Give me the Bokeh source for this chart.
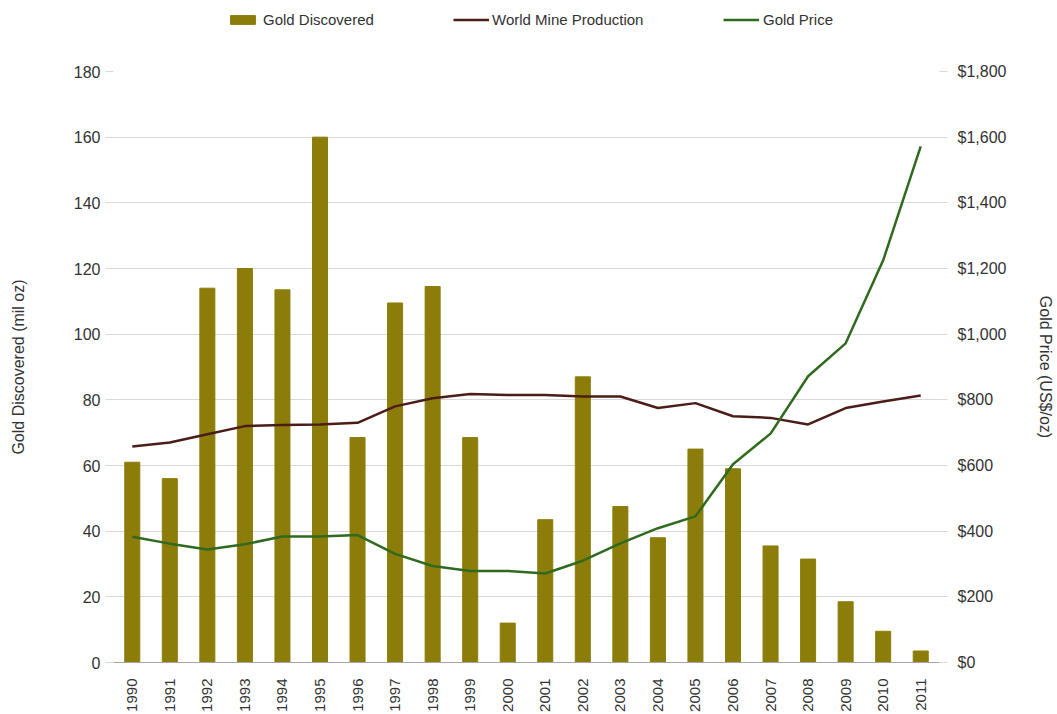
import math
from bokeh.plotting import figure
from bokeh.layouts import column
from bokeh.models import (LinearAxis, Range1d, FactorRange, Legend, LegendItem,
                          NumeralTickFormatter, FixedTicker)
from bokeh.embed import file_html
from bokeh.resources import INLINE

years = [str(y) for y in range(1990, 2012)]
gold_discovered = [61, 56, 114, 120, 113.5, 160, 68.5, 109.5, 114.5, 68.5, 12, 43.5,
                   87, 47.5, 38, 65, 59, 35.5, 31.5, 18.5, 9.5, 3.5]
mine_production = [65.8, 67, 69.5, 72, 72.3, 72.5, 73, 78, 80.5, 81.8, 81.5, 81.5,
                   81, 81, 77.5, 79, 75, 74.5, 72.5, 77.5, 79.5, 81.3]
gold_price = [383, 362, 344, 360, 384, 384, 388, 331, 294, 279, 279, 271,
              310, 363, 409, 445, 604, 697, 872, 972, 1225, 1572]
left_ticks = list(range(0, 181, 20))
right_ticks = list(range(0, 1801, 200))

FONT = "Liberation Sans"
TXT = "#333333"
GRID = "#D9D9D9"
BAR_C = "#8C7D0B"
PROD_C = "#4A1E16"
PRICE_C = "#2F6A1E"

# ---- main chart ----
p = figure(width=1057, height=674, x_range=FactorRange(*years, range_padding=0),
           y_range=Range1d(0, 180), output_backend="svg", toolbar_location=None,
           min_border_left=113, min_border_right=117, min_border_top=31,
           min_border_bottom=50)
p.extra_y_ranges = {"price": Range1d(0, 1800)}
p.outline_line_color = None
p.background_fill_color = "white"

p.vbar(x=years, top=gold_discovered, width=0.4, color=BAR_C)
p.line(x=years, y=mine_production, line_color=PROD_C, line_width=2.5)
p.line(x=years, y=gold_price, y_range_name="price", line_color=PRICE_C, line_width=2.5)

p.xgrid.grid_line_color = None
p.ygrid.grid_line_color = GRID
p.ygrid.ticker = FixedTicker(ticks=left_ticks)

ya = p.yaxis[0]
ya.ticker = FixedTicker(ticks=left_ticks)
ya.axis_label = "Gold Discovered (mil oz)"
ya.axis_line_color = None
ya.major_tick_line_color = GRID
ya.major_tick_out = 8
ya.major_tick_in = 0
ya.minor_tick_line_color = None
ya.major_label_standoff = 5
ya.axis_label_standoff = 44

ra = LinearAxis(y_range_name="price", ticker=FixedTicker(ticks=right_ticks),
                formatter=NumeralTickFormatter(format="$0,0"),
                axis_label="Gold Price (US$/oz)")
ra.axis_line_color = None
ra.major_tick_line_color = GRID
ra.major_tick_out = 8
ra.major_tick_in = 0
ra.minor_tick_line_color = None
ra.major_label_standoff = 10
ra.axis_label_standoff = 28
p.add_layout(ra, "right")

xa = p.xaxis[0]
xa.major_label_orientation = math.pi / 2
xa.axis_line_color = "#A6A6A6"
xa.major_tick_line_color = None
xa.major_label_standoff = 10

for ax in [ya, ra, xa]:
    ax.major_label_text_font = FONT
    ax.major_label_text_font_size = "16px"
    ax.major_label_text_color = TXT
    ax.axis_label_text_font = FONT
    ax.axis_label_text_font_size = "16px"
    ax.axis_label_text_font_style = "normal"
    ax.axis_label_text_color = TXT
xa.major_label_text_font_size = "15px"

# ---- legend strip (its renderers sit below its visible range; only the legend shows) ----
lf = figure(width=1057, height=40, x_range=FactorRange(*years, range_padding=0),
            y_range=Range1d(2000, 4000), output_backend="svg", toolbar_location=None,
            min_border_left=113, min_border_right=117, min_border_top=0, min_border_bottom=0)
lf.axis.visible = False
lf.grid.visible = False
lf.outline_line_color = None
r_bar = lf.vbar(x=years, top=gold_discovered, width=0.4, color=BAR_C)
r_prod = lf.line(x=years, y=mine_production, line_color=PROD_C, line_width=2.5)
r_price = lf.line(x=years, y=gold_price, line_color=PRICE_C, line_width=2.5)


def make_legend(label, rend, x, gw, gh, standoff):
    lg = Legend(items=[LegendItem(label=label, renderers=[rend])],
                orientation="horizontal", location=(x, 12))
    lg.label_text_font = FONT
    lg.label_text_font_size = "15px"
    lg.label_text_color = TXT
    lg.border_line_color = None
    lg.background_fill_alpha = 0
    lg.glyph_width = gw
    lg.glyph_height = gh
    lg.label_standoff = standoff
    lg.padding = 0
    lg.margin = 0
    lf.add_layout(lg)


make_legend("Gold Discovered", r_bar, 114, 31, 11, 5)
make_legend("World Mine Production", r_prod, 340, 36, 11, 3)
make_legend("Gold Price", r_price, 610, 36, 11, 4)

layout = column(lf, p, spacing=0)
open("out.html", "w").write(file_html(layout, INLINE))
